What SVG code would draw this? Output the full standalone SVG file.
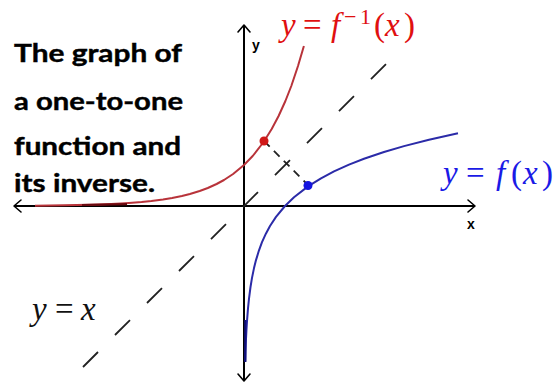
<svg xmlns="http://www.w3.org/2000/svg" width="558" height="383" viewBox="0 0 558 383">
<style>
.axis{stroke:#000;stroke-width:2;fill:none}
.arr{stroke:#000;stroke-width:1.6;fill:none;stroke-linecap:round;stroke-linejoin:round}
.dash{stroke:#222;stroke-width:1.8;fill:none;stroke-dasharray:21.2 24.05}
.dash2{stroke:#222;stroke-width:1.8;fill:none;stroke-dasharray:8 6}
.red{stroke:#b8333a;stroke-width:2;fill:none;stroke-linejoin:round}
.blue{stroke:#2b2ba8;stroke-width:2;fill:none;stroke-linejoin:round}
.title{font-family:Lato,"Open Sans","Liberation Sans",sans-serif;font-weight:bold;font-size:24px;fill:#000;stroke:#000;stroke-width:0.4}
.math{font-family:"Liberation Serif","Times New Roman",serif;font-size:33px}
.it{font-style:italic}
.lbl{font-family:"Liberation Sans",Arial,sans-serif;font-weight:bold;font-size:14px;fill:#000}
</style>
<rect width="558" height="383" fill="#fff"/>
<g id="title">
<text class="title" x="14" y="62" textLength="168" lengthAdjust="spacingAndGlyphs">The graph of</text>
<text class="title" x="14" y="110" textLength="169" lengthAdjust="spacingAndGlyphs">a one-to-one</text>
<text class="title" x="14" y="155" textLength="167" lengthAdjust="spacingAndGlyphs">function and</text>
<text class="title" x="14" y="192" textLength="141" lengthAdjust="spacingAndGlyphs">its inverse.</text>
</g>
<g id="axes">
<line class="axis" x1="14" y1="206" x2="475" y2="206"/>
<line class="axis" x1="244" y1="25" x2="244" y2="381"/>
<polyline class="arr" points="21,200 14,206 21,212"/>
<polyline class="arr" points="468,200 475,206 468,212"/>
<polyline class="arr" points="238,32 244,25 250,32"/>
<polyline class="arr" points="238,374 244,381 250,374"/>
<text class="lbl" x="252" y="50">y</text>
<text class="lbl" x="467" y="229">x</text>
</g>
<g id="connectors">
<line class="dash" x1="83" y1="367" x2="387" y2="63"/>
<line class="dash2" x1="264" y1="141" x2="308" y2="185"/>
</g>
<g id="inverse-curve">
<polyline class="red" points="35,205.65 64,205.3 88.6,204.8 98.5,204.5 111.1,204 120.9,203.5 128.9,203 141.6,202 151.4,201 163,199.5 172.1,198 181.9,196 189.9,194 199.7,191 207.8,188 216.6,184 224,180 233.1,174 244,165 252.7,156 263.6,142 271.7,129 278.6,116 285.4,101 291.3,86 298,66 303.9,46"/>
<line x1="82" y1="205" x2="127" y2="204.2" stroke="#6a0a10" stroke-width="2.2"/>
<circle cx="264" cy="141" r="4.5" fill="#d01818"/>
</g>
<g id="function-curve">
<polyline class="blue" points="245.2,361.4 245.5,351.5 246,338.9 246.5,329.1 247,321.1 248,308.4 249,298.6 250.5,287 252,277.9 254,268.1 256,260.1 259,250.3 262,242.2 266,233.4 270,226 276,216.9 285,206 294,197.3 308,186.4 321,178.3 334,171.4 349,164.6 364,158.7 384,152 404,146.1 429,139.7 458,133.3"/>
<line x1="245.3" y1="320" x2="245.3" y2="362" stroke="#10107a" stroke-width="2.2"/>
<circle cx="308" cy="185.5" r="4.5" fill="#1515e0"/>
</g>
<g id="label-inverse" class="math" fill="#e01010">
<text y="36"><tspan class="it" x="281">y</tspan><tspan x="303">=</tspan><tspan class="it" x="331">f</tspan></text>
<text y="24" style="font-size:22px"><tspan x="344">−</tspan><tspan x="360">1</tspan></text>
<text y="36"><tspan x="374">(</tspan><tspan class="it" x="385">x</tspan><tspan x="404">)</tspan></text>
</g>
<g id="label-function" class="math" fill="#1a1ae6">
<text y="184"><tspan class="it" x="443">y</tspan><tspan x="466">=</tspan><tspan class="it" x="496">f</tspan><tspan x="511">(</tspan><tspan class="it" x="523">x</tspan><tspan x="542">)</tspan></text>
</g>
<g id="label-identity" class="math" fill="#111">
<text y="320"><tspan class="it" x="32">y</tspan><tspan x="55">=</tspan><tspan class="it" x="81">x</tspan></text>
</g>
</svg>
